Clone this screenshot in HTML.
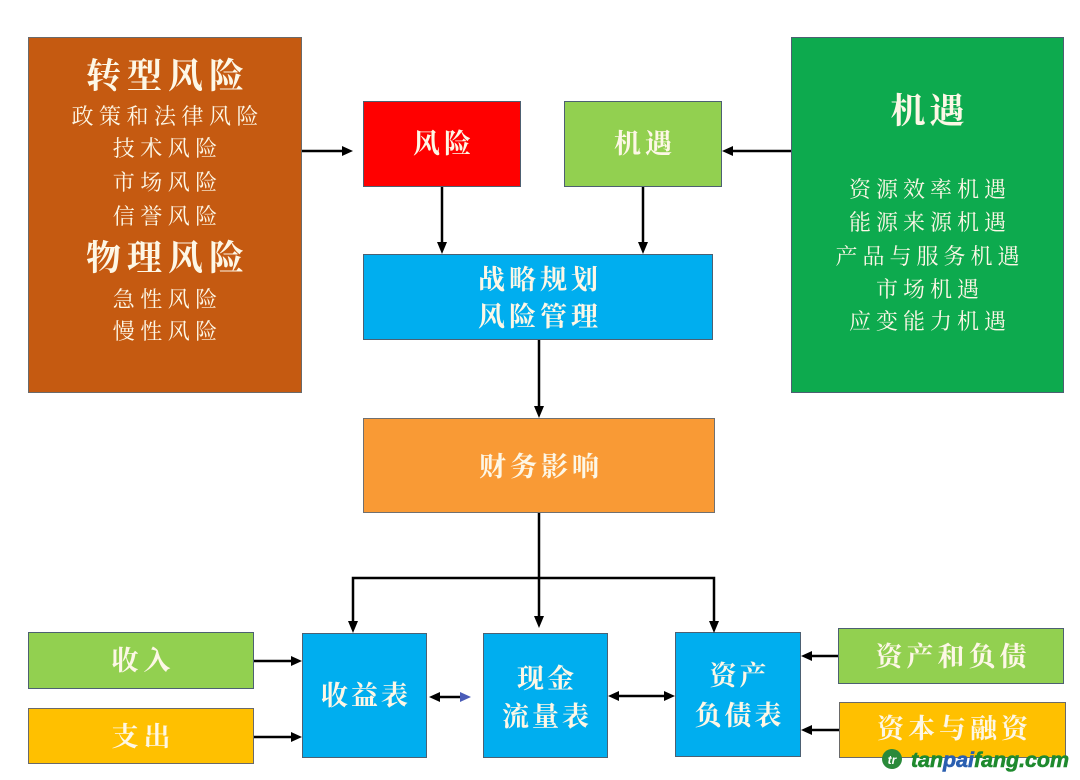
<!DOCTYPE html>
<html>
<head>
<meta charset="utf-8">
<style>
html,body{margin:0;padding:0;background:#fff;}
#c{position:relative;width:1080px;height:780px;overflow:hidden;background:#fff;
font-family:"Liberation Serif","Noto Serif CJK SC","Noto Sans CJK SC",serif;}
.b{position:absolute;box-sizing:border-box;border:1.5px solid #4d6072;}
.t{position:absolute;text-align:center;color:#fdf7e6;white-space:nowrap;}
</style>
</head>
<body>
<div id="c">
  <!-- boxes -->
  <div class="b" style="left:28px;top:37px;width:274px;height:356px;background:#C55A11;border-color:#6a6a6a;"></div>
  <div class="b" style="left:363px;top:101px;width:158px;height:86px;background:#FF0000;"></div>
  <div class="b" style="left:564px;top:101px;width:158px;height:86px;background:#92D050;"></div>
  <div class="b" style="left:791px;top:37px;width:273px;height:356px;background:#0DAA4E;"></div>
  <div class="b" style="left:363px;top:254px;width:350px;height:86px;background:#00AEEF;"></div>
  <div class="b" style="left:363px;top:418px;width:352px;height:95px;background:#F99A35;border-color:#707070;"></div>
  <div class="b" style="left:28px;top:632px;width:226px;height:57px;background:#92D050;"></div>
  <div class="b" style="left:28px;top:708px;width:226px;height:56px;background:#FFC000;border-color:#6a6a6a;"></div>
  <div class="b" style="left:302px;top:633px;width:125px;height:125px;background:#00AEEF;"></div>
  <div class="b" style="left:483px;top:633px;width:125px;height:125px;background:#00AEEF;"></div>
  <div class="b" style="left:675px;top:632px;width:126px;height:125px;background:#00AEEF;"></div>
  <div class="b" style="left:838px;top:628px;width:226px;height:56px;background:#92D050;"></div>
  <div class="b" style="left:839px;top:702px;width:227px;height:56px;background:#FFC000;border-color:#6a6a6a;"></div>

  <!-- left brown text -->
  <div class="t" style="left:28px;width:274px;top:55px;height:44px;line-height:44px;font-size:35px;font-weight:bold;letter-spacing:6px;padding-left:6px;box-sizing:border-box;">转型风险</div>
  <div class="t" style="left:28px;width:274px;top:101px;height:32px;line-height:32px;font-size:22px;letter-spacing:5.5px;padding-left:5.5px;box-sizing:border-box;">政策和法律风险</div>
  <div class="t" style="left:28px;width:274px;top:133px;height:32px;line-height:32px;font-size:22px;letter-spacing:5.5px;padding-left:5.5px;box-sizing:border-box;">技术风险</div>
  <div class="t" style="left:28px;width:274px;top:167px;height:32px;line-height:32px;font-size:22px;letter-spacing:5.5px;padding-left:5.5px;box-sizing:border-box;">市场风险</div>
  <div class="t" style="left:28px;width:274px;top:201px;height:32px;line-height:32px;font-size:22px;letter-spacing:5.5px;padding-left:5.5px;box-sizing:border-box;">信誉风险</div>
  <div class="t" style="left:28px;width:274px;top:237px;height:44px;line-height:44px;font-size:35px;font-weight:bold;letter-spacing:6px;padding-left:6px;box-sizing:border-box;">物理风险</div>
  <div class="t" style="left:28px;width:274px;top:284px;height:32px;line-height:32px;font-size:22px;letter-spacing:5.5px;padding-left:5.5px;box-sizing:border-box;">急性风险</div>
  <div class="t" style="left:28px;width:274px;top:316px;height:32px;line-height:32px;font-size:22px;letter-spacing:5.5px;padding-left:5.5px;box-sizing:border-box;">慢性风险</div>

  <!-- right green text -->
  <div class="t" style="left:791px;width:273px;top:90px;height:44px;line-height:44px;font-size:35px;font-weight:bold;letter-spacing:4px;padding-left:4px;box-sizing:border-box;">机遇</div>
  <div class="t" style="left:791px;width:273px;top:174px;height:32px;line-height:32px;font-size:22px;letter-spacing:5px;padding-left:5px;box-sizing:border-box;">资源效率机遇</div>
  <div class="t" style="left:791px;width:273px;top:207px;height:32px;line-height:32px;font-size:22px;letter-spacing:5px;padding-left:5px;box-sizing:border-box;">能源来源机遇</div>
  <div class="t" style="left:791px;width:273px;top:241px;height:32px;line-height:32px;font-size:22px;letter-spacing:5px;padding-left:5px;box-sizing:border-box;">产品与服务机遇</div>
  <div class="t" style="left:791px;width:273px;top:274px;height:32px;line-height:32px;font-size:22px;letter-spacing:5px;padding-left:5px;box-sizing:border-box;">市场机遇</div>
  <div class="t" style="left:791px;width:273px;top:306px;height:32px;line-height:32px;font-size:22px;letter-spacing:5px;padding-left:5px;box-sizing:border-box;">应变能力机遇</div>

  <!-- middle labels -->
  <div class="t" style="left:363px;width:158px;top:126px;height:36px;line-height:36px;font-size:27px;font-weight:bold;letter-spacing:4px;padding-left:4px;box-sizing:border-box;">风险</div>
  <div class="t" style="left:564px;width:158px;top:126px;height:36px;line-height:36px;font-size:27px;font-weight:bold;letter-spacing:4px;padding-left:4px;box-sizing:border-box;">机遇</div>
  <div class="t" style="left:363px;width:350px;top:262px;height:36px;line-height:36px;font-size:27px;font-weight:bold;letter-spacing:4px;padding-left:4px;box-sizing:border-box;">战略规划</div>
  <div class="t" style="left:363px;width:350px;top:299px;height:36px;line-height:36px;font-size:27px;font-weight:bold;letter-spacing:4px;padding-left:4px;box-sizing:border-box;">风险管理</div>
  <div class="t" style="left:363px;width:352px;top:449px;height:36px;line-height:36px;font-size:27px;font-weight:bold;letter-spacing:4px;padding-left:4px;box-sizing:border-box;">财务影响</div>

  <!-- bottom labels -->
  <div class="t" style="left:28px;width:226px;top:643px;height:36px;line-height:36px;font-size:27px;font-weight:bold;letter-spacing:5px;padding-left:5px;box-sizing:border-box;">收入</div>
  <div class="t" style="left:28px;width:226px;top:719px;height:36px;line-height:36px;font-size:27px;font-weight:bold;letter-spacing:5px;padding-left:5px;box-sizing:border-box;">支出</div>
  <div class="t" style="left:302px;width:125px;top:678px;height:36px;line-height:36px;font-size:27px;font-weight:bold;letter-spacing:3px;padding-left:3px;box-sizing:border-box;">收益表</div>
  <div class="t" style="left:483px;width:125px;top:661px;height:36px;line-height:36px;font-size:27px;font-weight:bold;letter-spacing:3px;padding-left:3px;box-sizing:border-box;">现金</div>
  <div class="t" style="left:483px;width:125px;top:699px;height:36px;line-height:36px;font-size:27px;font-weight:bold;letter-spacing:3px;padding-left:3px;box-sizing:border-box;">流量表</div>
  <div class="t" style="left:675px;width:126px;top:658px;height:36px;line-height:36px;font-size:27px;font-weight:bold;letter-spacing:3px;padding-left:3px;box-sizing:border-box;">资产</div>
  <div class="t" style="left:675px;width:126px;top:698px;height:36px;line-height:36px;font-size:27px;font-weight:bold;letter-spacing:3px;padding-left:3px;box-sizing:border-box;">负债表</div>
  <div class="t" style="left:838px;width:226px;top:639px;height:36px;line-height:36px;font-size:27px;font-weight:bold;letter-spacing:4px;padding-left:4px;box-sizing:border-box;">资产和负债</div>
  <div class="t" style="left:839px;width:227px;top:711px;height:36px;line-height:36px;font-size:27px;font-weight:bold;letter-spacing:4px;padding-left:4px;box-sizing:border-box;">资本与融资</div>

  <!-- connectors -->
  <svg width="1080" height="780" style="position:absolute;left:0;top:0;" xmlns="http://www.w3.org/2000/svg">
    <g stroke="#000" stroke-width="2.5" fill="none">
      <line x1="302" y1="151" x2="344" y2="151"/>
      <line x1="791" y1="151" x2="731" y2="151"/>
      <line x1="442" y1="187" x2="442" y2="244"/>
      <line x1="643" y1="187" x2="643" y2="244"/>
      <line x1="539" y1="340" x2="539" y2="408"/>
      <line x1="539" y1="513" x2="539" y2="618"/>
      <polyline points="353,623 353,578 714,578 714,623"/>
      <line x1="254" y1="661" x2="293" y2="661"/>
      <line x1="254" y1="737" x2="293" y2="737"/>
      <line x1="438" y1="697" x2="462" y2="697"/>
      <line x1="617" y1="696" x2="666" y2="696"/>
      <line x1="838" y1="656" x2="810" y2="656"/>
      <line x1="839" y1="730" x2="810" y2="730"/>
    </g>
    <g fill="#000">
      <polygon points="353,151 342,146 342,156"/>
      <polygon points="722,151 733,146 733,156"/>
      <polygon points="442,254 437,242 447,242"/>
      <polygon points="643,254 638,242 648,242"/>
      <polygon points="539,418 534,406 544,406"/>
      <polygon points="353,633 348,621 358,621"/>
      <polygon points="539,628 534,616 544,616"/>
      <polygon points="714,633 709,621 719,621"/>
      <polygon points="302,661 291,656 291,666"/>
      <polygon points="302,737 291,732 291,742"/>
      <polygon points="429,697 440,692 440,702"/>
      <polygon points="608,696 619,691 619,701"/>
      <polygon points="675,696 664,691 664,701"/>
      <polygon points="801,656 812,651 812,661"/>
      <polygon points="801,730 812,725 812,735"/>
    </g>
    <polygon points="471,697 460,692 460,702" fill="#4a5cb8"/>
    <!-- watermark -->
    <circle cx="892" cy="759" r="10" fill="#2a8a3a"/>
    <text x="892" y="764" font-family="Liberation Sans, sans-serif" font-size="12" font-weight="bold" font-style="italic" fill="#fff" text-anchor="middle">tr</text>
    <text x="911" y="767" font-family="Liberation Sans, sans-serif" font-size="21" font-weight="bold" font-style="italic" textLength="158" lengthAdjust="spacingAndGlyphs" stroke-width="0.6"><tspan fill="#1f8a2e" stroke="#1f8a2e">tan</tspan><tspan fill="#2a5fb0" stroke="#2a5fb0">pai</tspan><tspan fill="#1f8a2e" stroke="#1f8a2e">fang.com</tspan></text>
  </svg>
</div>
</body>
</html>
